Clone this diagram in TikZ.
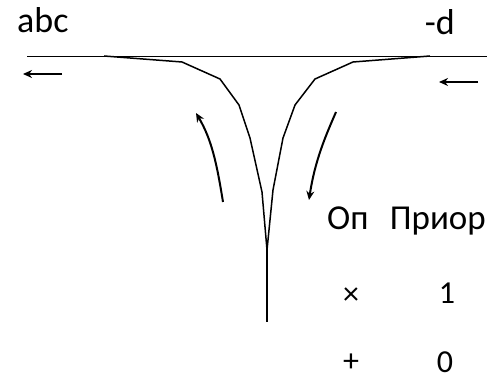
\documentclass[tikz,border=0pt]{standalone}
\usepackage{fontspec}
\setmainfont{Carlito}
\usetikzlibrary{arrows.meta}
\begin{document}
\begin{tikzpicture}[x=1pt,y=-1pt,
  lbl/.style={inner sep=0pt,font=\fontsize{36}{42}\selectfont},
  hdr/.style={inner sep=0pt,font=\fontsize{35}{42}\selectfont},
  rowtxt/.style={inner sep=0pt,font=\fontsize{32}{38}\selectfont},
  funnel/.style={line width=1.5pt,line join=miter},
  flow/.style={line width=2pt,-{Stealth[length=9pt,width=8pt]}},
  axis/.style={line width=0.8pt}]
\useasboundingbox (0,0) rectangle (487,379);
% texts
\node[lbl,anchor=base west] (abc) at (17,33) {abc};
\node[lbl,anchor=base east] (d) at (455,35) {-d};
\node[hdr,anchor=base west] (op) at (327,230) {Оп};
\node[hdr,anchor=base east] (prior) at (486,230) {Приор};
\node[rowtxt] (mul) at (351,296) {×};
\node[rowtxt,anchor=base] (one) at (447,303) {1};
\node[rowtxt] (plus) at (351,363) {+};
\node[rowtxt,anchor=base] (zero) at (445,372) {0};
% horizontal line
\coordinate (hl) at (27,56);
\coordinate (hr) at (487,56);
\draw[axis] (hl) -- (hr);
% funnel
\coordinate (tip) at (267,250);
\coordinate (stemend) at (267,322);
\draw[funnel] (104,56) -- (182,62) -- (220,79) -- (239,105) -- (250,138) -- (262,192) -- (tip);
\draw[funnel] (430,56) -- (353,62) -- (315,79) -- (295,105) -- (283,138) -- (273,190) -- (tip);
\draw[line width=2.6pt] (tip) -- (stemend);
% curved arrows
\coordinate (la0) at (223,202);
\coordinate (la1) at (196,113);
\draw[flow] (la0) .. controls (217,165) and (212,140) .. (la1);
\coordinate (ra0) at (336,112);
\coordinate (ra1) at (309,200);
\draw[flow] (ra0) .. controls (326,135) and (315,160) .. (ra1);
% small arrows
\coordinate (sl0) at (62,74);
\coordinate (sl1) at (23,74);
\draw[flow] (sl0) -- (sl1);
\coordinate (sr0) at (478,82);
\coordinate (sr1) at (439,82);
\draw[flow] (sr0) -- (sr1);
\end{tikzpicture}
\end{document}
